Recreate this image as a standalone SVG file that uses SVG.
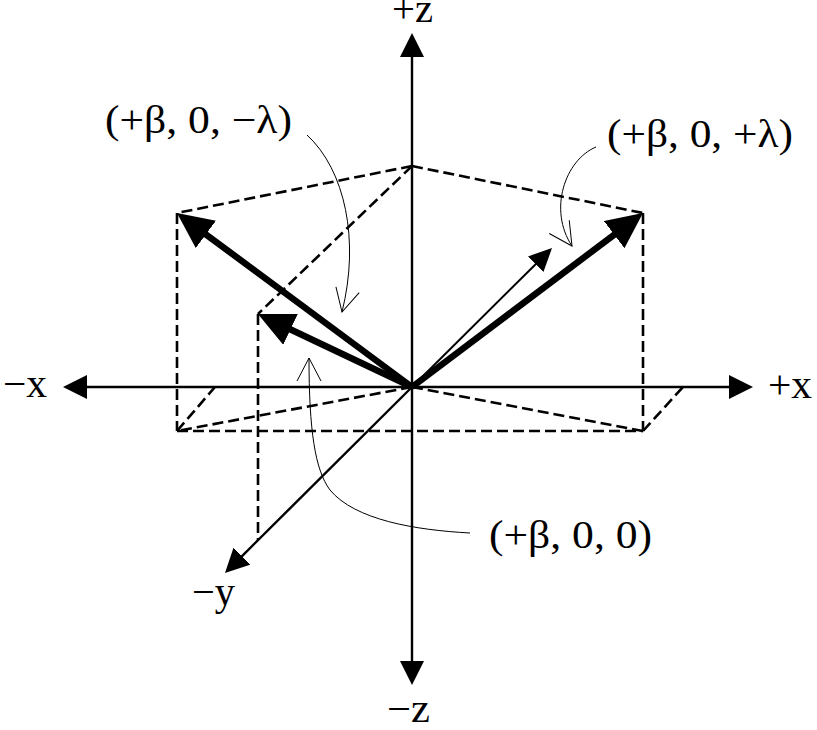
<svg xmlns="http://www.w3.org/2000/svg" width="817" height="730" viewBox="0 0 817 730">
  <style>
    .axis { stroke: #000; stroke-width: 2.4; fill: none; }
    .dash { stroke: #000; stroke-width: 2.6; stroke-dasharray: 11 5; fill: none; }
    .thick { stroke: #000; stroke-width: 6.5; fill: none; }
    .thin { stroke: #000; stroke-width: 2; fill: none; }
    .callout { stroke: #000; stroke-width: 1; fill: none; }
    text { font-family: "Liberation Serif", "Times New Roman", serif; font-size: 40px; fill: #000; }
  </style>
  <defs>
    <marker id="headAxis" markerUnits="userSpaceOnUse" viewBox="0 -12 24 24" markerWidth="24" markerHeight="24" refX="1" refY="0" orient="auto">
      <path d="M0,-12 L24,0 L0,12 Z" fill="#000"/>
    </marker>
    <marker id="headThick" markerUnits="userSpaceOnUse" viewBox="0 -17 36 34" markerWidth="36" markerHeight="34" refX="1" refY="0" orient="auto">
      <path d="M0,-17 L36,0 L0,17 Z" fill="#000"/>
    </marker>
    <marker id="headThin" markerUnits="userSpaceOnUse" viewBox="0 -11 23 22" markerWidth="23" markerHeight="22" refX="1" refY="0" orient="auto">
      <path d="M0,-11 L23,0 L0,11 Z" fill="#000"/>
    </marker>
    <marker id="headOpen" markerUnits="userSpaceOnUse" viewBox="-26 -14 28 28" markerWidth="28" markerHeight="28" refX="0" refY="0" orient="auto">
      <path d="M-23,-12 L0,0 L-23,12" fill="none" stroke="#000" stroke-width="1"/>
    </marker>
  </defs>

  <g id="guides">
    <path class="dash" d="M412,166 L177,213"/>
    <path class="dash" d="M412,166 L643,213"/>
    <path class="dash" d="M412,166 L258,314"/>
    <path class="dash" d="M177,213 L177,431"/>
    <path class="dash" d="M643,213 L643,431"/>
    <path class="dash" d="M177,431 L643,431"/>
    <path class="dash" d="M412,387 L177,431"/>
    <path class="dash" d="M412,387 L643,431"/>
    <path class="dash" d="M177,431 L215,387"/>
    <path class="dash" d="M643,431 L683,387"/>
    <path class="dash" d="M258,314 L258,540"/>
  </g>

  <g id="axes">
    <path class="axis" d="M412,387 L412,56" marker-end="url(#headAxis)"/>
    <path class="axis" d="M412,387 L412,662" marker-end="url(#headAxis)"/>
    <path class="axis" d="M412,387 L86,387" marker-end="url(#headAxis)"/>
    <path class="axis" d="M412,387 L730,387" marker-end="url(#headAxis)"/>
    <path class="axis" d="M412,387 L241.3,556.8" marker-end="url(#headAxis)"/>
  </g>

  <g id="vectors">
    <path class="thick" d="M412,387 L205.1,233.8" marker-end="url(#headThick)"/>
    <path class="thick" d="M412,387 L289.6,329" marker-end="url(#headThick)"/>
    <path class="thick" d="M412,387 L615,234.1" marker-end="url(#headThick)"/>
    <path class="thin" d="M412,387 L536.4,263.5" marker-end="url(#headThin)"/>
  </g>

  <g id="connectors">
    <path class="callout" d="M307,135 C345,170 360,240 342,312" marker-end="url(#headOpen)"/>
    <path class="callout" d="M596,147 C565,160 548,210 572,246" marker-end="url(#headOpen)"/>
    <path class="callout" d="M470,533 C415,530 355,520 330,490 C315,470 309,430 309,358" marker-end="url(#headOpen)"/>
  </g>

  <g id="labels">
    <text x="392" y="22" textLength="41" lengthAdjust="spacingAndGlyphs">+z</text>
    <text x="387" y="722" textLength="43" lengthAdjust="spacingAndGlyphs">−z</text>
    <text x="3" y="397" textLength="44" lengthAdjust="spacingAndGlyphs">−x</text>
    <text x="768" y="398" textLength="44" lengthAdjust="spacingAndGlyphs">+x</text>
    <text x="192" y="605" textLength="43" lengthAdjust="spacingAndGlyphs">−y</text>
    <text x="105" y="133" textLength="187" lengthAdjust="spacingAndGlyphs">(+β, 0, −λ)</text>
    <text x="607" y="147" textLength="186" lengthAdjust="spacingAndGlyphs">(+β, 0, +λ)</text>
    <text x="489" y="548" textLength="163" lengthAdjust="spacingAndGlyphs">(+β, 0, 0)</text>
  </g>
</svg>
